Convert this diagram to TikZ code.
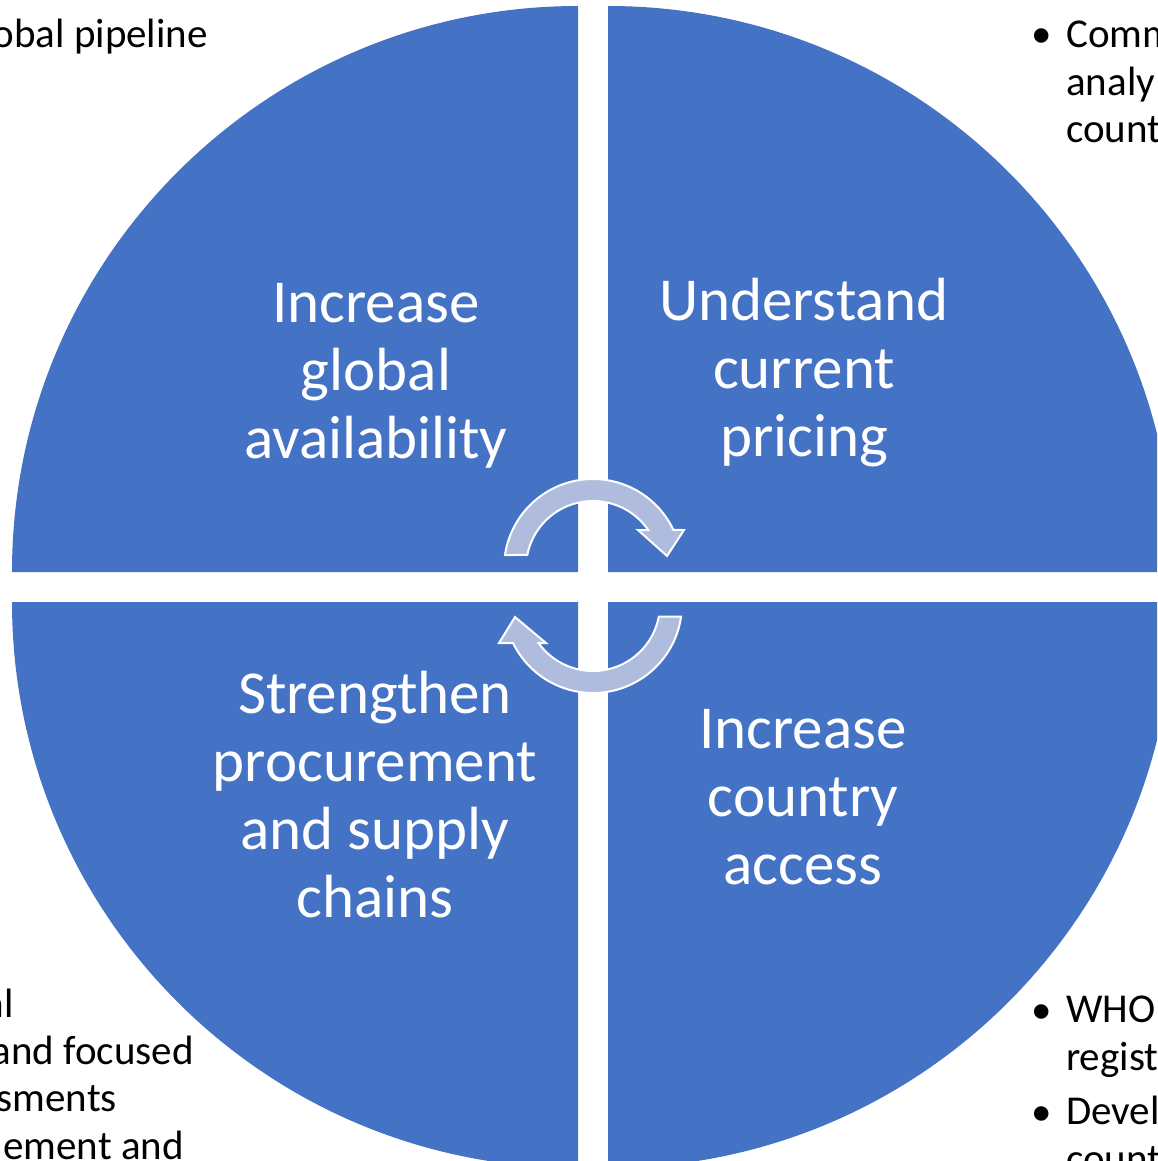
\documentclass[tikz,border=0pt]{standalone}
\usepackage{fontspec}
\setmainfont{Carlito}
\usetikzlibrary{calc}
\definecolor{quad}{HTML}{4472C4}
\definecolor{arrowfill}{RGB}{176,188,222}
\begin{document}
\begin{tikzpicture}[x=1pt,y=-1pt,
  quadrant/.style={fill=quad, draw=none},
  cyclearrow/.style={fill=arrowfill, draw=white, line width=2pt, line join=miter},
  maintext/.style={text=white, font=\fontsize{61}{68}\selectfont, align=center, inner sep=0pt},
  sidetext/.style={text=black, font=\fontsize{41}{47.5}\selectfont, inner sep=0pt}]
\useasboundingbox (0,0) rectangle (1157,1161);
\clip (0,0) rectangle (1157,1161);
% quadrants
\fill[quadrant] (578,572) -- (12,572) arc[start angle=180,end angle=270,radius=566] -- cycle;
\fill[quadrant] (608,572) -- (608,6) arc[start angle=270,end angle=360,radius=566] -- cycle;
\fill[quadrant] (608,602) -- (1174,602) arc[start angle=0,end angle=90,radius=566] -- cycle;
\fill[quadrant] (578,602) -- (578,1168) arc[start angle=90,end angle=180,radius=566] -- cycle;
% quadrant texts (base anchor = baseline of the last line)
\node[maintext, anchor=base] (tl) at (376,458) {Increase\\global\\availability};
\node[maintext, anchor=base] (tr) at (804,456) {Understand\\current\\pricing};
\node[maintext, anchor=base] (bl) at (375,917) {Strengthen\\procurement\\and supply\\chains};
\node[maintext, anchor=base] (br) at (803,884) {Increase\\country\\access};
% cycle arrows
\coordinate (ca) at (593,568);
\coordinate (cb) at (593,604);
\draw[cyclearrow] ($(ca)+(188.4:89)$) arc[start angle=188.4,end angle=334.7,radius=89]
  -- (684,530) -- (667,556) -- (638,530)
  -- ($(ca)+(325.5:67)$) arc[start angle=325.5,end angle=191.2,radius=67] -- cycle;
\draw[cyclearrow] ($(cb)+(8.1:89)$) arc[start angle=8.1,end angle=154,radius=89]
  -- (499,643) -- (515,617) -- (546,643)
  -- ($(cb)+(144.4:67)$) arc[start angle=144.4,end angle=10.75,radius=67] -- cycle;
% side texts (cut by the page edge, as in the reference)
\node[sidetext, anchor=base east] (tlside) at (208,48) {obal pipeline};
\node[sidetext, anchor=base west] (trbullet) at (1031,48) {•};
\node[sidetext, anchor=base west, align=left] (trside) at (1066,143) {Comm\\analy\\count};
\node[sidetext, anchor=base east] (bl1) at (14,1017) {al};
\node[sidetext, anchor=base east] (bl2) at (194,1064) {and focused};
\node[sidetext, anchor=base east] (bl3) at (117,1111) {sments};
\node[sidetext, anchor=base east] (bl4) at (184,1159) {ement and};
\node[sidetext, anchor=base west] (brbullet1) at (1031,1023) {•};
\node[sidetext, anchor=base west, align=left] (brside1) at (1066,1070) {WHO\\regist};
\node[sidetext, anchor=base west] (brbullet2) at (1031,1125) {•};
\node[sidetext, anchor=base west, align=left] (brside2) at (1066,1172) {Devel\\count};
\end{tikzpicture}
\end{document}
